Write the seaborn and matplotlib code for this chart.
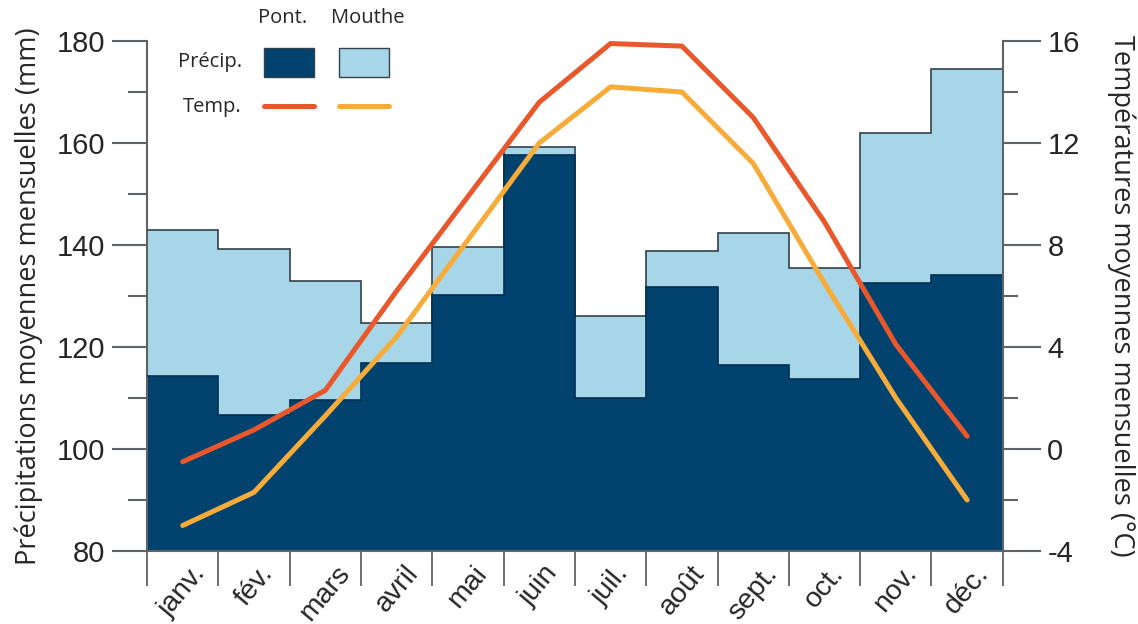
import numpy as np
import pandas as pd
import matplotlib
matplotlib.use('Agg')
import matplotlib.pyplot as plt
from matplotlib.patches import Rectangle
from matplotlib.lines import Line2D
from matplotlib.ticker import MultipleLocator, FixedLocator, NullFormatter
import seaborn as sns

# Données
mois = ['janv.', 'fév.', 'mars', 'avril', 'mai', 'juin',
        'juil.', 'août', 'sept.', 'oct.', 'nov.', 'déc.']
precip_pont = [114.3, 106.7, 109.6, 116.9, 130.2, 157.6,
               110.0, 131.8, 116.5, 113.7, 132.5, 134.1]
precip_mouthe = [142.9, 139.2, 133.0, 124.7, 139.6, 159.2,
                 126.1, 138.8, 142.4, 135.5, 162.0, 174.5]
temp_pont = [-0.5, 0.75, 2.3, 6.2, 9.9, 13.6,
             15.9, 15.8, 13.0, 8.9, 4.1, 0.5]
temp_mouthe = [-3.0, -1.7, 1.3, 4.4, 8.2, 12.0,
               14.2, 14.0, 11.2, 6.5, 2.0, -2.0]

bleu_fonce = '#01426f'
bleu_clair = '#a7d6e8'
rouge = '#e9582b'
jaune = '#f7ac3a'
gris = '#5f6366'
contour = '#34404a'

df = pd.DataFrame({'mois': mois, 'pont': precip_pont, 'mouthe': precip_mouthe,
                   'tpont': temp_pont, 'tmouthe': temp_mouthe})
df['x'] = np.arange(len(mois))

sns.set_style('white')
plt.rcParams['font.family'] = ['Open Sans', 'DejaVu Sans']
plt.rcParams['axes.unicode_minus'] = False
chiffres = ['Liberation Sans', 'DejaVu Sans']

fig = plt.figure(figsize=(11.38, 6.24), dpi=100)
ax = fig.add_axes([0.1292, 0.117, 0.752, 0.8173])

sns.barplot(data=df, x='mois', y='mouthe', color=bleu_clair, width=1.0,
            saturation=1, edgecolor='none', linewidth=0, ax=ax)
sns.barplot(data=df, x='mois', y='pont', color=bleu_fonce, width=1.0,
            saturation=1, edgecolor='none', linewidth=0, ax=ax)
bords = np.arange(len(mois) + 1) - 0.5
ax.stairs(precip_mouthe, bords, baseline=None, color=contour, lw=1.2, zorder=3)
ax.stairs(precip_pont, bords, baseline=None, color='#012f52', lw=1.2, zorder=3)

ax.set_xlim(-0.5, len(mois) - 0.5)
ax.set_ylim(80, 180)

# axe x : traits de séparation entre mois, étiquettes au centre
ax.xaxis.set_major_locator(FixedLocator(bords))
ax.xaxis.set_major_formatter(NullFormatter())
ax.xaxis.set_minor_locator(FixedLocator(df['x']))
ax.set_xticklabels(mois, minor=True, rotation=50, ha='center', va='top',
                   fontsize=20.5, fontfamily=chiffres)
ax.tick_params(axis='x', which='major', direction='out', length=25, width=1.3,
               color=gris, bottom=True)
ax.tick_params(axis='x', which='minor', length=0, pad=7, bottom=True)
ax.set_xlabel('')

# axe gauche
ax.yaxis.set_major_locator(MultipleLocator(20))
ax.yaxis.set_minor_locator(MultipleLocator(10))
ax.tick_params(axis='y', which='major', direction='out', length=25, width=1.5,
               color=gris, left=True, labelsize=21, pad=5)
ax.tick_params(axis='y', which='minor', direction='out', length=14, width=1.5,
               color=gris, left=True)
for t in ax.get_yticklabels():
    t.set_fontfamily(chiffres)
ax.set_ylabel('Précipitations moyennes mensuelles (mm)', fontsize=19.5, labelpad=10)

for s in ['top', 'right']:
    ax.spines[s].set_visible(False)
for s in ['left', 'bottom']:
    ax.spines[s].set_color(gris)
    ax.spines[s].set_linewidth(1.5)

# axe droit : températures
ax2 = ax.twinx()
sns.lineplot(data=df, x='x', y='tpont', color=rouge, lw=3.6, ax=ax2,
             solid_capstyle='round')
sns.lineplot(data=df, x='x', y='tmouthe', color=jaune, lw=3.6, ax=ax2,
             solid_capstyle='round')
ax2.set_ylim(-4, 16)
ax2.set_xlim(-0.5, len(mois) - 0.5)
ax2.yaxis.set_major_locator(MultipleLocator(4))
ax2.yaxis.set_minor_locator(MultipleLocator(2))
ax2.tick_params(axis='y', which='major', direction='out', length=27, width=1.5,
                color=gris, right=True, labelsize=21, pad=5)
ax2.tick_params(axis='y', which='minor', direction='out', length=11, width=1.5,
                color=gris, right=True)
for t in ax2.get_yticklabels():
    t.set_fontfamily(chiffres)
ax2.set_ylabel('Températures moyennes mensuelles (°C)', fontsize=19.5,
               rotation=270, labelpad=40)
ax2.set_xlabel('')
for s in ['top', 'left', 'bottom']:
    ax2.spines[s].set_visible(False)
ax2.spines['right'].set_color(gris)
ax2.spines['right'].set_linewidth(1.5)
ax2.grid(False)
ax.grid(False)

# légende dessinée à la main
W, H = 1138, 624
def fx(px):
    return px / W
def fy(py):
    return 1 - py / H

fig.text(fx(283), fy(18), 'Pont.', ha='center', va='center', fontsize=14.5)
fig.text(fx(368), fy(18), 'Mouthe', ha='center', va='center', fontsize=14.5)
fig.text(fx(242), fy(62), 'Précip.', ha='right', va='center', fontsize=14.5)
fig.text(fx(242), fy(107), 'Temp.', ha='right', va='center', fontsize=14.5)
fig.patches.append(Rectangle((fx(264), fy(77)), fx(50), 29 / H, facecolor=bleu_fonce,
                             edgecolor=contour, lw=1, transform=fig.transFigure))
fig.patches.append(Rectangle((fx(339), fy(77)), fx(50), 29 / H, facecolor=bleu_clair,
                             edgecolor=contour, lw=1, transform=fig.transFigure))
fig.lines.append(Line2D([fx(264), fx(314)], [fy(106), fy(106)], color=rouge, lw=3.6,
                        solid_capstyle='round', transform=fig.transFigure))
fig.lines.append(Line2D([fx(339), fx(389)], [fy(106), fy(106)], color=jaune, lw=3.6,
                        solid_capstyle='round', transform=fig.transFigure))

fig.savefig('out.png', dpi=100)
